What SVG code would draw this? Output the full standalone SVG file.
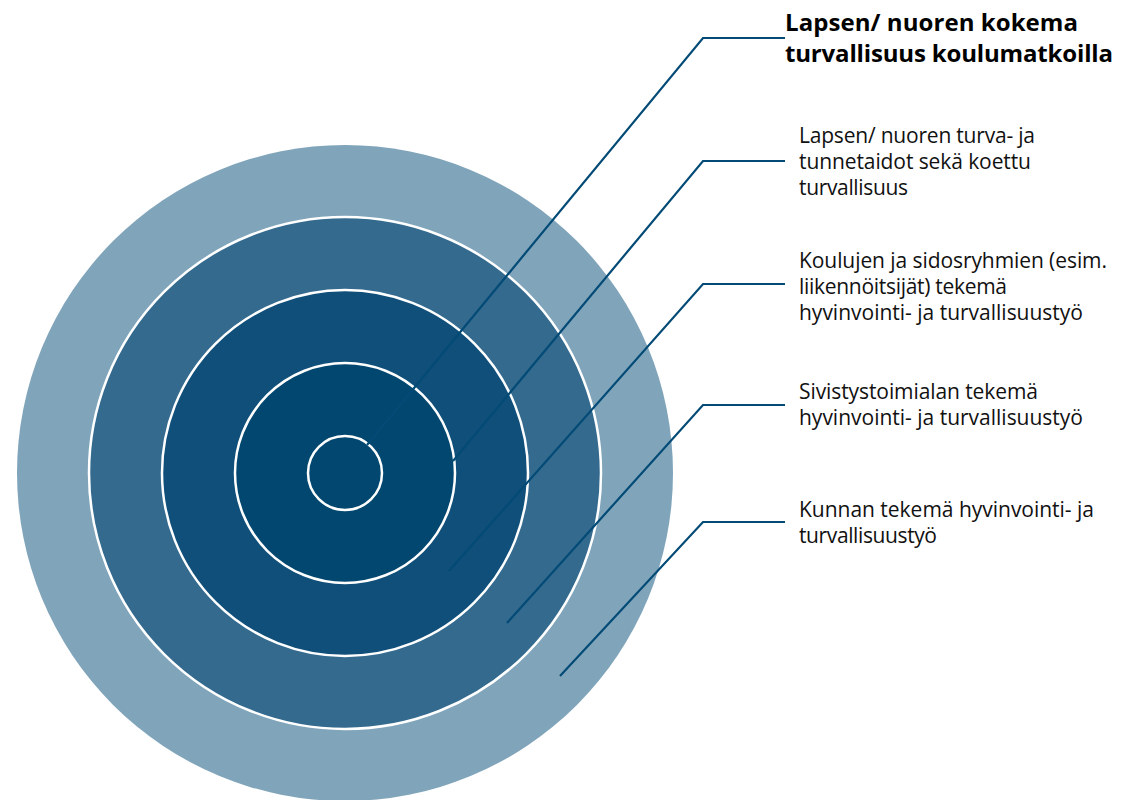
<svg xmlns="http://www.w3.org/2000/svg" width="1122" height="800" viewBox="0 0 1122 800">
<style>
.ring{stroke:#ffffff;stroke-width:2.5}
.lbl{font-family:"Open Sans","Noto Sans","Liberation Sans",sans-serif;font-size:21px;fill:#111111}
.ttl{font-family:"Open Sans","Noto Sans","Liberation Sans",sans-serif;font-size:24px;font-weight:bold;fill:#000000}
.conn{fill:none;stroke:#034b76;stroke-width:2.2;stroke-linejoin:miter}
</style>
<rect width="1122" height="800" fill="#ffffff"/>
<g id="ring5"><circle cx="345" cy="473" r="328" fill="#80a5bb"/></g>
<g id="ring4"><circle class="ring" cx="345" cy="473" r="256" fill="#336a8e"/></g>
<g id="ring3"><circle class="ring" cx="345" cy="473" r="183" fill="#0f4f79"/></g>
<g id="ring2"><circle class="ring" cx="345" cy="473" r="110" fill="#02476f"/></g>
<g id="ring1"><circle class="ring" cx="345" cy="473" r="37" fill="#02476f"/></g>
<g id="connectors">
<polyline class="conn" points="785,38 703,38 367,445"/>
<polyline class="conn" points="785,161 703,161 453,461"/>
<polyline class="conn" points="785,284 703,284 449,571"/>
<polyline class="conn" points="785,405 703,405 507,623"/>
<polyline class="conn" points="785,522 703,522 560,676"/>
</g>
<g id="label1"><text class="ttl" x="785" y="31" textLength="293" lengthAdjust="spacing">Lapsen/ nuoren kokema</text><text class="ttl" x="785" y="62" textLength="328" lengthAdjust="spacing">turvallisuus koulumatkoilla</text></g>
<g id="label2"><text class="lbl" x="799" y="143" textLength="236" lengthAdjust="spacing">Lapsen/ nuoren turva- ja</text><text class="lbl" x="799" y="169" textLength="232" lengthAdjust="spacing">tunnetaidot sekä koettu</text><text class="lbl" x="799" y="195" textLength="109" lengthAdjust="spacing">turvallisuus</text></g>
<g id="label3"><text class="lbl" x="799" y="268" textLength="308" lengthAdjust="spacing">Koulujen ja sidosryhmien (esim.</text><text class="lbl" x="799" y="294" textLength="208" lengthAdjust="spacing">liikennöitsijät) tekemä</text><text class="lbl" x="799" y="320" textLength="284" lengthAdjust="spacing">hyvinvointi- ja turvallisuustyö</text></g>
<g id="label4"><text class="lbl" x="799" y="399" textLength="239" lengthAdjust="spacing">Sivistystoimialan tekemä</text><text class="lbl" x="799" y="425" textLength="284" lengthAdjust="spacing">hyvinvointi- ja turvallisuustyö</text></g>
<g id="label5"><text class="lbl" x="799" y="517" textLength="295" lengthAdjust="spacing">Kunnan tekemä hyvinvointi- ja</text><text class="lbl" x="799" y="543" textLength="138" lengthAdjust="spacing">turvallisuustyö</text></g>
</svg>
